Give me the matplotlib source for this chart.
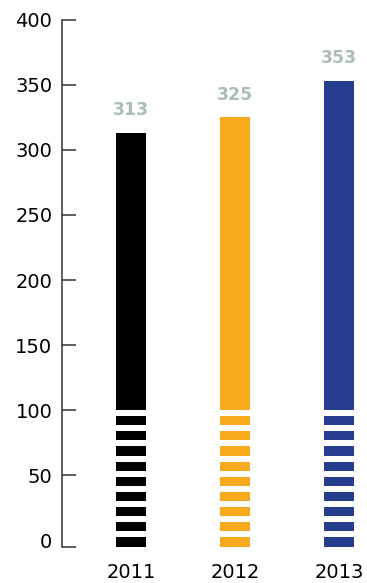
import matplotlib.pyplot as plt
import numpy as np

# Valeurs par année
years = ['2011', '2012', '2013']
values = [313, 325, 353]
colors = ['#000000', '#F8AA1E', '#253F8E']
y_ticks = [0, 50, 100, 150, 200, 250, 300, 350, 400]

plt.rcParams['font.family'] = ['DejaVu Sans']

fig = plt.figure(figsize=(3.67, 5.83), dpi=100)
ax = fig.add_axes([0.169, 0.0626, 0.831, 0.9031])

x = np.arange(len(years))
width = 0.29
ymin = -5
n_stripes = 9
period = (100 - ymin) / n_stripes
stripe_h = period * 0.6

for i, (v, c) in enumerate(zip(values, colors)):
    # partie pleine au-dessus de 100
    ax.bar(x[i], v - 100, bottom=100, width=width, color=c)
    # partie rayée sous 100
    bottoms = ymin + period * np.arange(n_stripes)
    ax.bar(np.full(n_stripes, x[i]), stripe_h, bottom=bottoms, width=width, color=c)
    ax.annotate(str(v), (x[i], v), xytext=(0, 10), textcoords='offset points',
                ha='center', va='bottom', fontsize=12.5, fontweight='bold',
                color='#A9BDBA')

ax.set_xlim(-0.663, 2.27)
ax.set_ylim(ymin, 400)
ax.set_yticks(y_ticks)
ax.set_xticks(x)
ax.set_xticklabels(years)

for s in ['top', 'right', 'bottom']:
    ax.spines[s].set_visible(False)
ax.spines['left'].set_color('#333333')
ax.spines['left'].set_linewidth(1.1)

ax.tick_params(axis='y', direction='in', length=10, width=1.1, color='#333333',
               pad=7, labelsize=14)
ax.tick_params(axis='x', length=0, pad=12, labelsize=14)
ax.yaxis.get_major_ticks()[0].tick1line.set_visible(False)
ax.set_yticks([ymin], minor=True)
ax.tick_params(axis='y', which='minor', direction='in', length=10, width=1.1,
               color='#333333')

fig.savefig('out.png', dpi=100)
